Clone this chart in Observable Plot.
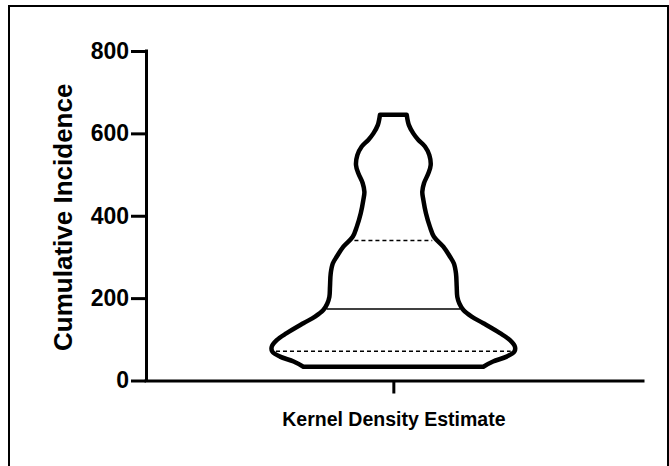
<!DOCTYPE html>
<html><head><meta charset="utf-8">
<script src="https://cdn.jsdelivr.net/npm/d3@7"></script>
<script src="https://cdn.jsdelivr.net/npm/@observablehq/plot@0.6"></script>
<style>
html,body{margin:0;padding:0;background:#fff;overflow:hidden;}
#wrap{position:relative;width:669px;height:466px;}
#border{position:absolute;left:8px;top:5px;width:661px;height:475px;box-sizing:border-box;border:2px solid #000;}
#chart{position:absolute;left:0;top:0;}
</style></head><body>
<div id="wrap"><div id="border"></div><div id="chart"></div></div>
<script>
// Violin profile: value (y) and relative kernel density (half-width)
const values  = [33.5, 46, 58, 70, 82, 98, 115, 139, 155, 171, 187, 203, 228, 260, 284, 301, 325, 349, 373, 406, 438, 458, 479, 503, 523, 547, 568, 584, 600, 620, 645];
const density = [0.74, 0.82, 0.932, 0.995, 1.0, 0.959, 0.877, 0.74, 0.644, 0.576, 0.543, 0.526, 0.521, 0.515, 0.498, 0.465, 0.411, 0.334, 0.301, 0.268, 0.247, 0.238, 0.252, 0.288, 0.307, 0.296, 0.26, 0.206, 0.164, 0.128, 0.11];
// quartiles: lower, median, upper
const quartileValues  = [72, 175, 341];
const quartileDensity = [0.965, 0.548, 0.32];
const yTicks = [0, 200, 400, 600, 800];
const categoryLabel = "Kernel Density Estimate";
const yLabel = "Cumulative Incidence";

const profile = values.map((v, i) => ({v, d: density[i]}));
const quartiles = quartileValues.map((v, i) => ({v, d: quartileDensity[i], median: i === 1}));
const xDomain = [-2.034, 2.053];

const font = "'Liberation Sans', Arial, Helvetica, sans-serif";
const chart = Plot.plot({
  width: 669,
  height: 466,
  marginLeft: 146,
  marginRight: 26,
  marginTop: 51,
  marginBottom: 85.5,
  style: {fontFamily: font, fontWeight: "bold", color: "#000", background: "transparent", overflow: "visible"},
  x: {domain: xDomain},
  y: {domain: [0, 800]},
  marks: [
    Plot.areaX(profile, {y: "v", x1: d => -d.d, x2: d => d.d, fill: "white", stroke: "black", strokeWidth: 4.5, strokeLinejoin: "round", curve: "catmull-rom"}),
    Plot.ruleY(quartiles.filter(q => q.median), {y: "v", x1: d => -d.d, x2: d => d.d, stroke: "black", strokeWidth: 1.5}),
    Plot.ruleY(quartiles.filter(q => !q.median), {y: "v", x1: d => -d.d, x2: d => d.d, stroke: "black", strokeWidth: 1.5, strokeDasharray: "4,3"}),
    Plot.ruleY([0], {stroke: "black", strokeWidth: 3, strokeLinecap: "square"}),
    Plot.ruleX([xDomain[0]], {y1: 0, y2: 800, stroke: "black", strokeWidth: 3, strokeLinecap: "square"}),
    Plot.axisY({ticks: yTicks, tickSize: 15, tickPadding: 2.5, fontSize: 23, fontWeight: "bold", strokeWidth: 3, label: null, tickFormat: d => String(d)}),
    Plot.axisX({ticks: [0], tickSize: 13, tickPadding: 18.5, fontSize: 19.5, fontWeight: "bold", strokeWidth: 3, label: null, tickFormat: () => categoryLabel}),
    Plot.text([yLabel], {frameAnchor: "left", rotate: -90, dx: -75, dy: 1, fontSize: 26, fontWeight: "bold", textAnchor: "middle", lineAnchor: "bottom"})
  ]
});
document.getElementById("chart").appendChild(chart);
</script>
</body></html>
